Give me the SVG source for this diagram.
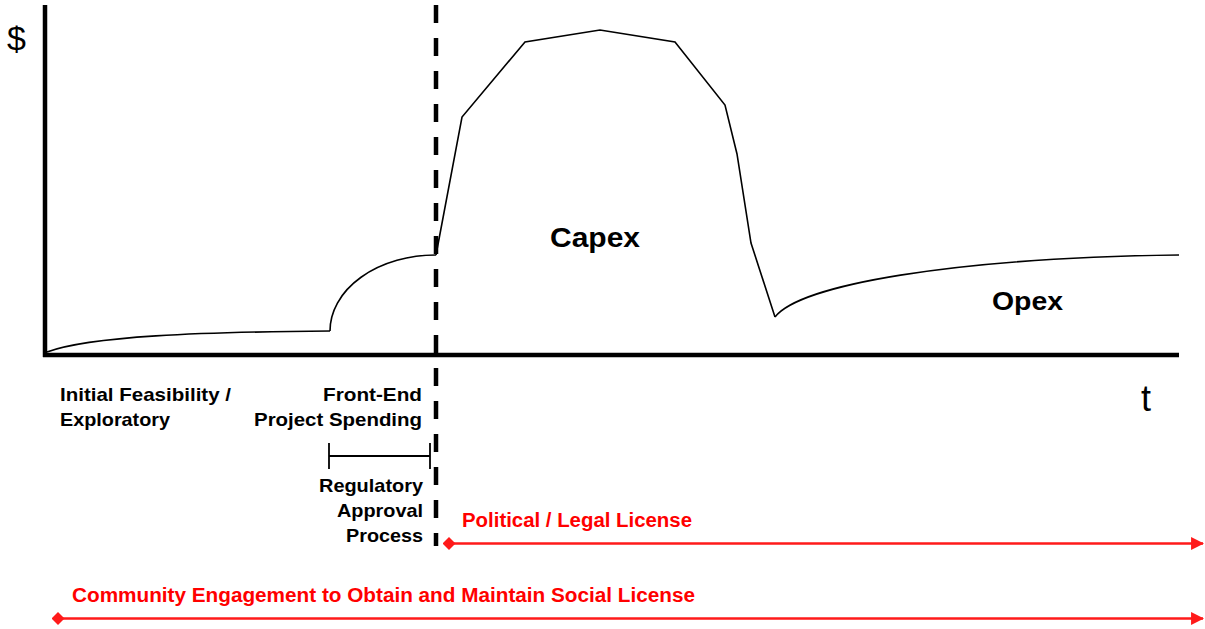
<svg xmlns="http://www.w3.org/2000/svg" width="1205" height="629" viewBox="0 0 1205 629">
<style>
.axis{stroke:#000;stroke-width:4.5;fill:none}
.curve{stroke:#000;stroke-width:1.6;fill:none;stroke-linejoin:miter}
.dash{stroke:#000;stroke-width:4.5;stroke-dasharray:18 15;fill:none}
.red{stroke:#ff1a1a;stroke-width:2.4;fill:none}
.bk{stroke:#000;stroke-width:1.8;fill:none}
.lbl{font-family:"Liberation Sans",Arial,sans-serif;font-weight:bold;font-size:18.5px;fill:#000}
.rlbl{font-family:"Liberation Sans",Arial,sans-serif;font-weight:bold;font-size:20px;fill:#ff0000}
.big{font-family:"Liberation Sans",Arial,sans-serif;font-weight:bold;fill:#000}
.reg{font-family:"Liberation Sans",Arial,sans-serif;fill:#000}
</style>
<defs>
<marker id="arr" viewBox="0 0 12 12" refX="11" refY="6" markerWidth="13" markerHeight="13" markerUnits="userSpaceOnUse" orient="auto">
<path d="M0,0 L12,6 L0,12 z" fill="#ff1a1a"/>
</marker>
<marker id="dia" viewBox="0 0 12 12" refX="6" refY="6" markerWidth="13" markerHeight="13" markerUnits="userSpaceOnUse" orient="auto">
<path d="M6,0 L12,6 L6,12 L0,6 z" fill="#ff1a1a"/>
</marker>
</defs>
<rect width="1205" height="629" fill="#fff"/>
<g id="axes">
<line class="axis" x1="45" y1="5" x2="45" y2="357"/>
<line class="axis" x1="43" y1="355" x2="1179" y2="355"/>
<text class="reg" x="7" y="50" font-size="34">$</text>
<text class="reg" x="1141" y="411" font-size="36">t</text>
</g>
<g id="spending-curve">
<path class="curve" d="M47,352 C90,336 200,332 330,331"/>
<path class="curve" d="M330,331 A106 76 0 0 1 436,255"/>
<polyline class="curve" points="436,255 462,117 525,42 600,30 675,42 725,105 737,154 751,243 775,317"/>
<path class="curve" d="M775,317 C800,285 950,258 1179,255"/>
<text class="big" x="550" y="247" font-size="27" textLength="90" lengthAdjust="spacingAndGlyphs">Capex</text>
<text class="big" x="992" y="310" font-size="25" textLength="71" lengthAdjust="spacingAndGlyphs">Opex</text>
</g>
<g id="divider">
<line class="dash" x1="436" y1="5" x2="436" y2="546"/>
</g>
<g id="initial-feasibility">
<text class="lbl" x="60" y="401" textLength="171" lengthAdjust="spacingAndGlyphs">Initial Feasibility /</text>
<text class="lbl" x="60" y="426" textLength="110" lengthAdjust="spacingAndGlyphs">Exploratory</text>
</g>
<g id="front-end">
<text class="lbl" x="323" y="401" textLength="99" lengthAdjust="spacingAndGlyphs">Front-End</text>
<text class="lbl" x="254" y="426" textLength="168" lengthAdjust="spacingAndGlyphs">Project Spending</text>
</g>
<g id="regulatory">
<line class="bk" x1="329" y1="456" x2="430" y2="456"/>
<line class="bk" x1="329" y1="443" x2="329" y2="469"/>
<line class="bk" x1="430" y1="443" x2="430" y2="469"/>
<text class="lbl" x="319" y="492" textLength="104" lengthAdjust="spacingAndGlyphs">Regulatory</text>
<text class="lbl" x="337" y="517" textLength="86" lengthAdjust="spacingAndGlyphs">Approval</text>
<text class="lbl" x="346" y="542" textLength="77" lengthAdjust="spacingAndGlyphs">Process</text>
</g>
<g id="political-license">
<text class="rlbl" x="462" y="527" textLength="230" lengthAdjust="spacingAndGlyphs">Political / Legal License</text>
</g>
<g id="social-license">
<text class="rlbl" x="72" y="602" textLength="623" lengthAdjust="spacingAndGlyphs">Community Engagement to Obtain and Maintain Social License</text>
</g>
<g id="connectors">
<line class="red" x1="449" y1="543.5" x2="1203" y2="543.5" marker-start="url(#dia)" marker-end="url(#arr)"/>
<line class="red" x1="58" y1="618.5" x2="1203" y2="618.5" marker-start="url(#dia)" marker-end="url(#arr)"/>
</g>
</svg>
